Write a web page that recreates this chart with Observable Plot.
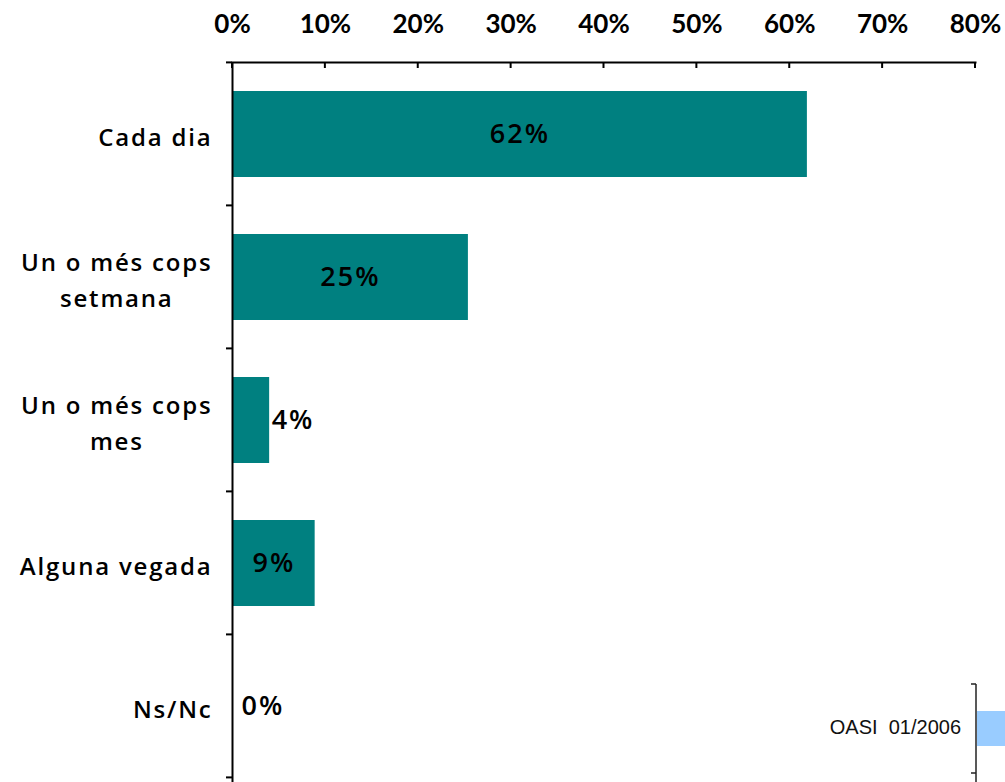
<!DOCTYPE html>
<html>
<head>
<meta charset="utf-8">
<script src="https://cdn.jsdelivr.net/npm/d3@7"></script>
<script src="https://cdn.jsdelivr.net/npm/@observablehq/plot@0.6"></script>
<style>
  html, body { margin: 0; padding: 0; background: #fff; }
  #wrap { position: relative; width: 1005px; height: 782px; overflow: hidden; }
  #note { position: absolute; left: 0; top: 0; }
</style>
</head>
<body>
<div id="wrap"></div>
<script>
const categories = ["Cada dia", "Un o més cops\nsetmana", "Un o més cops\nmes", "Alguna vegada", "Ns/Nc"];
const values = [61.9, 25.4, 4.0, 8.9, 0];
const valueLabels = ["62%", "25%", "4%", "9%", "0%"];
const xTickValues = [0, 10, 20, 30, 40, 50, 60, 70, 80];
const sourceNote = "OASI  01/2006";

const data = categories.map((c, i) => ({cat: c, v: values[i], label: valueLabels[i]}));

const labelFont = "'Open Sans', Lato, sans-serif";
const tickFont = "Lato, 'Open Sans', sans-serif";

function xTicksMark(index, scales, values, dims) {
  const g = d3.create("svg:g").attr("stroke", "black").attr("stroke-width", 2);
  g.selectAll("line").data(xTickValues).join("line")
    .attr("x1", d => scales.x(d)).attr("x2", d => scales.x(d))
    .attr("y1", dims.marginTop).attr("y2", dims.marginTop + 6);
  return g.node();
}

function yTicksMark(index, scales, values, dims) {
  const ys = categories.map(c => scales.y(c));
  const step = ys[1] - ys[0];
  const bounds = ys.map(v => v - step * 0.2).concat([ys[ys.length - 1] + step * 0.8]);
  const g = d3.create("svg:g").attr("stroke", "black").attr("stroke-width", 2);
  g.selectAll("line").data(bounds).join("line")
    .attr("x1", dims.marginLeft - 6).attr("x2", dims.marginLeft)
    .attr("y1", d => d).attr("y2", d => d);
  return g.node();
}

const barLabelStyle = {fontSize: 27, fontWeight: 600, fontFamily: labelFont, fill: "black"};

const chart = Plot.plot({
  width: 1005,
  height: 782,
  marginLeft: 232,
  marginRight: 30,
  marginTop: 62,
  marginBottom: 4,
  style: {background: "white", overflow: "visible"},
  x: {domain: [0, 80], axis: null, label: null},
  y: {domain: categories, paddingInner: 0.4, paddingOuter: 0.2, axis: null, label: null},
  marks: [
    Plot.barX(data, {x: "v", y: "cat", fill: "#008080"}),
    Plot.axisX(xTickValues, {
      anchor: "top", tickSize: 0, tickPadding: 30, label: null,
      tickFormat: d => d + "%",
      fontSize: 26, fontWeight: "bold", fontFamily: tickFont, fill: "black"
    }),
    Plot.axisY({
      anchor: "left", tickSize: 0, tickPadding: 20, label: null,
      fontSize: 24, fontFamily: labelFont, fontWeight: 600, lineHeight: 1.5,
      fill: "black"
    }),
    Plot.frame({anchor: "top", stroke: "black", strokeWidth: 2}),
    Plot.ruleX([0], {stroke: "black", strokeWidth: 2, insetBottom: -4}),
    xTicksMark,
    yTicksMark,
    Plot.text(data.filter(d => d.v >= 7), {x: d => d.v / 2, y: "cat", text: "label", ...barLabelStyle}),
    Plot.text(data.filter(d => d.v < 7 && d.v > 0), {x: "v", y: "cat", text: "label", textAnchor: "start", dx: 2, ...barLabelStyle}),
    Plot.text(data.filter(d => d.v === 0), {x: "v", y: "cat", text: "label", textAnchor: "start", dx: 9, ...barLabelStyle})
  ]
});

const wrap = document.getElementById("wrap");
wrap.appendChild(chart);

// letter spacing for the wide-set labels
chart.querySelectorAll('g[aria-label="y-axis tick label"] text').forEach(t => t.style.letterSpacing = "1.8px");
chart.querySelectorAll('g[aria-label="text"] text').forEach(t => t.style.letterSpacing = "2px");

// center multi-line category labels within their block (block stays right-aligned)
chart.querySelectorAll('g[aria-label="y-axis tick label"] text').forEach(t => {
  const tspans = t.querySelectorAll("tspan");
  if (tspans.length > 1) {
    const w = t.getBBox().width;
    t.setAttribute("text-anchor", "middle");
    tspans.forEach(s => s.setAttribute("x", -w / 2));
  }
});

// source note and the clipped legend fragment at bottom right
const note = d3.select(wrap).append("svg").attr("id", "note")
  .attr("width", 1005).attr("height", 782);
note.append("text").attr("x", 961).attr("y", 734).attr("text-anchor", "end")
  .attr("font-family", "Arial, 'Liberation Sans', sans-serif").attr("font-size", 20)
  .style("white-space", "pre").attr("xml:space", "preserve")
  .attr("fill", "#111").text(sourceNote);
note.append("rect").attr("x", 977).attr("y", 711).attr("width", 28).attr("height", 35).attr("fill", "#99CCFF");
note.append("line").attr("x1", 976).attr("x2", 976).attr("y1", 684).attr("y2", 782).attr("stroke", "#222").attr("stroke-width", 1.5);
note.append("line").attr("x1", 971).attr("x2", 976).attr("y1", 684).attr("y2", 684).attr("stroke", "#222").attr("stroke-width", 1.5);
note.append("line").attr("x1", 971).attr("x2", 976).attr("y1", 773).attr("y2", 773).attr("stroke", "#222").attr("stroke-width", 1.5);
</script>
</body>
</html>
